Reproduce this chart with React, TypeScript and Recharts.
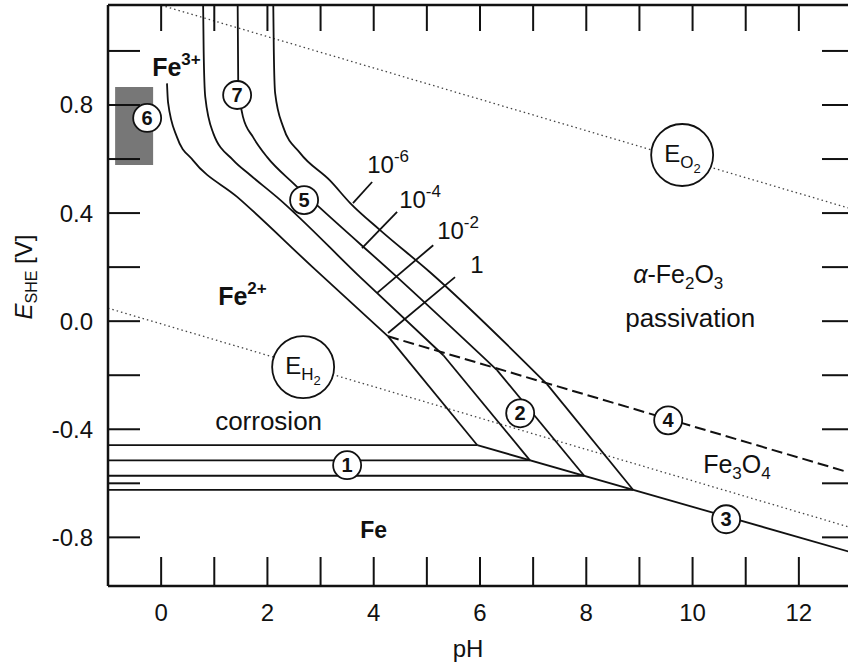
import React from 'react';
import { LineChart, Line, XAxis, YAxis, ReferenceDot, ReferenceArea } from 'recharts';

type Pt = { ph: number; e: number };
const pts = (rows: [number, number][]): Pt[] => rows.map(([ph, e]) => ({ ph, e }));

const PH_DOMAIN: [number, number] = [-1, 13];
const E_DOMAIN: [number, number] = [-0.98, 1.17];
const PH_TICKS = [0, 1, 2, 3, 4, 5, 6, 7, 8, 9, 10, 11, 12];
const E_TICKS = [1.0, 0.8, 0.6, 0.4, 0.2, 0, -0.2, -0.4, -0.6, -0.8];

// Fe3+/Fe2O3 (7) bending into Fe2+/Fe2O3 (5), for c(Fe2+) = 1, 1e-2, 1e-4, 1e-6
const UPPER_C0 = pts([[0.11, 0.88], [0.13, 0.81], [0.3, 0.68], [0.6, 0.595], [1.43, 0.46], [2.85, 0.2], [4.27, -0.056]]);
const UPPER_C2 = pts([[0.79, 1.17], [0.8, 1.0], [0.83, 0.83], [0.98, 0.696], [1.355, 0.596], [1.675, 0.541], [2.18, 0.459], [3.745, 0.163], [5.31, -0.126]]);
const UPPER_C4 = pts([[1.44, 1.17], [1.45, 0.89], [1.54, 0.756], [1.73, 0.681], [1.995, 0.607], [2.484, 0.511], [2.99, 0.419], [4.44, 0.163], [6.32, -0.181]]);
const UPPER_C6 = pts([[2.11, 1.17], [2.12, 1.0], [2.145, 0.844], [2.296, 0.719], [2.616, 0.622], [3.18, 0.52], [3.557, 0.437], [4.12, 0.337], [5.06, 0.181], [7.26, -0.233]]);

// Fe2+/Fe3O4 (2)
const LOWER_C0 = pts([[4.27, -0.056], [5.95, -0.459]]);
const LOWER_C2 = pts([[5.31, -0.126], [6.94, -0.515]]);
const LOWER_C4 = pts([[6.32, -0.181], [7.96, -0.572]]);
const LOWER_C6 = pts([[7.26, -0.233], [8.88, -0.624]]);

// Fe/Fe2+ (1)
const FE_FE2_C0 = pts([[-1, -0.459], [5.95, -0.459]]);
const FE_FE2_C2 = pts([[-1, -0.515], [6.94, -0.515]]);
const FE_FE2_C4 = pts([[-1, -0.572], [7.96, -0.572]]);
const FE_FE2_C6 = pts([[-1, -0.624], [8.88, -0.624]]);

// Fe/Fe3O4 (3) and Fe3O4/Fe2O3 (4)
const FE_FE3O4 = pts([[5.95, -0.459], [13, -0.856]]);
const FE3O4_FE2O3 = pts([[4.27, -0.056], [13, -0.563]]);

// water stability lines
const E_O2_LINE = pts([[0, 1.169], [13, 0.415]]);
const E_H2_LINE = pts([[-1, 0.048], [13, -0.765]]);

// concentration leaders
const LEADER_C6 = pts([[3.97, 0.515], [3.61, 0.437]]);
const LEADER_C4 = pts([[4.44, 0.404], [3.78, 0.27]]);
const LEADER_C2 = pts([[5.12, 0.281], [4.06, 0.104]]);
const LEADER_C0 = pts([[5.53, 0.163], [4.27, -0.044]]);

const SOLID = [UPPER_C0, UPPER_C2, UPPER_C4, UPPER_C6];
const STRAIGHT = [
  LOWER_C0, LOWER_C2, LOWER_C4, LOWER_C6,
  FE_FE2_C0, FE_FE2_C2, FE_FE2_C4, FE_FE2_C6,
  FE_FE3O4,
  LEADER_C6, LEADER_C4, LEADER_C2, LEADER_C0,
];

const FONT = '"Liberation Sans", Arial, Helvetica, sans-serif';
const INK = '#111';

function BottomTick(props: any) {
  const { x, y, payload } = props;
  const v = payload.value;
  return (
    <g>
      <line x1={x} y1={y} x2={x} y2={y - 29} stroke={INK} strokeWidth={2} />
      {v % 2 === 0 && (
        <text x={x} y={y + 35} textAnchor="middle" fontSize={24} fontFamily={FONT} fill={INK}>{v}</text>
      )}
    </g>
  );
}

function TopTick(props: any) {
  const { x, y } = props;
  return <line x1={x} y1={y} x2={x} y2={y + 26} stroke={INK} strokeWidth={2} />;
}

function LeftTick(props: any) {
  const { x, y, payload } = props;
  const v = payload.value;
  const labelled = Math.round(v * 10) % 4 === 0;
  return (
    <g>
      <line x1={x} y1={y} x2={x + 32} y2={y} stroke={INK} strokeWidth={2} />
      {labelled && (
        <text x={x - 15} y={y + 8.5} textAnchor="end" fontSize={24} fontFamily={FONT} fill={INK}>{v.toFixed(1)}</text>
      )}
    </g>
  );
}

function RightTick(props: any) {
  const { x, y } = props;
  return <line x1={x} y1={y} x2={x - 30} y2={y} stroke={INK} strokeWidth={2} />;
}

const circled = (n: string) => (p: any) => (
  <g>
    <circle cx={p.cx} cy={p.cy} r={14} fill="#fff" stroke={INK} strokeWidth={1.8} />
    <text x={p.cx} y={p.cy + 7} textAnchor="middle" fontSize={20} fontWeight="bold" fontFamily={FONT} fill={INK}>{n}</text>
  </g>
);

const potential = (sub: string) => (p: any) => (
  <g>
    <circle cx={p.cx} cy={p.cy} r={31} fill="#fff" stroke={INK} strokeWidth={1.8} />
    <text x={p.cx - 18} y={p.cy + 7} fontSize={24} fontFamily={FONT} fill={INK}>
      E<tspan fontSize={17} dy={6}>{sub}</tspan><tspan fontSize={13} dy={5}>2</tspan>
    </text>
  </g>
);

const note = (children: React.ReactNode, size = 25, weight: string = 'normal') => (p: any) => (
  <text x={p.cx} y={p.cy} fontSize={size} fontWeight={weight} fontFamily={FONT} fill={INK}>{children}</text>
);

const power = (exp: string) => note(<>10<tspan fontSize={17} dy={-11}>{exp}</tspan></>, 24);

export default function App() {
  return (
    <div style={{ position: 'absolute', left: 0, top: 0, width: 848, height: 665, overflow: 'hidden', background: '#fff' }}>
      <LineChart width={860} height={665} margin={{ top: 4, right: 7, bottom: 0, left: 0 }}>
        <XAxis
          dataKey="ph" type="number" domain={PH_DOMAIN} ticks={PH_TICKS} allowDataOverflow interval={0}
          height={79} tickSize={0} tickMargin={0} tickLine={false}
          axisLine={{ stroke: INK, strokeWidth: 2.5 }} tick={<BottomTick />}
        />
        <XAxis
          xAxisId="top" orientation="top" dataKey="ph" type="number" domain={PH_DOMAIN} ticks={PH_TICKS}
          allowDataOverflow interval={0} height={1} tickSize={0} tickMargin={0} tickLine={false}
          axisLine={{ stroke: INK, strokeWidth: 2.5 }} tick={<TopTick />}
        />
        <YAxis
          type="number" domain={E_DOMAIN} ticks={E_TICKS} allowDataOverflow interval={0}
          width={108} tickSize={0} tickMargin={0} tickLine={false}
          axisLine={{ stroke: INK, strokeWidth: 2.5 }} tick={<LeftTick />}
        />
        <YAxis
          yAxisId="right" orientation="right" type="number" domain={E_DOMAIN} ticks={E_TICKS}
          allowDataOverflow interval={0} width={1} tickSize={0} tickMargin={0} tickLine={false}
          axisLine={{ stroke: INK, strokeWidth: 2.5 }} tick={<RightTick />}
        />

        <ReferenceArea x1={-0.866} x2={-0.151} y1={0.578} y2={0.867} fill="#777" fillOpacity={1} stroke="none" ifOverflow="visible" />

        <Line data={E_O2_LINE} dataKey="e" type="linear" stroke="#444" strokeWidth={1.3} strokeDasharray="1.5 3" dot={false} activeDot={false} isAnimationActive={false} />
        <Line data={E_H2_LINE} dataKey="e" type="linear" stroke="#444" strokeWidth={1.3} strokeDasharray="1.5 3" dot={false} activeDot={false} isAnimationActive={false} />
        <Line data={FE3O4_FE2O3} dataKey="e" type="linear" stroke={INK} strokeWidth={2} strokeDasharray="11 5" dot={false} activeDot={false} isAnimationActive={false} />

        {SOLID.map((d, i) => (
          <Line key={`u${i}`} data={d} dataKey="e" type="monotoneX" stroke={INK} strokeWidth={1.8} dot={false} activeDot={false} isAnimationActive={false} />
        ))}
        {STRAIGHT.map((d, i) => (
          <Line key={`s${i}`} data={d} dataKey="e" type="linear" stroke={INK} strokeWidth={1.8} dot={false} activeDot={false} isAnimationActive={false} />
        ))}

        <ReferenceDot x={9.804} y={0.615} r={0} ifOverflow="visible" shape={potential('O')} zIndex={700} />
        <ReferenceDot x={2.672} y={-0.17} r={0} ifOverflow="visible" shape={potential('H')} zIndex={700} />

        <ReferenceDot x={-0.263} y={0.752} r={0} ifOverflow="visible" shape={circled('6')} zIndex={700} />
        <ReferenceDot x={1.43} y={0.837} r={0} ifOverflow="visible" shape={circled('7')} zIndex={700} />
        <ReferenceDot x={2.69} y={0.448} r={0} ifOverflow="visible" shape={circled('5')} zIndex={700} />
        <ReferenceDot x={6.756} y={-0.341} r={0} ifOverflow="visible" shape={circled('2')} zIndex={700} />
        <ReferenceDot x={9.541} y={-0.367} r={0} ifOverflow="visible" shape={circled('4')} zIndex={700} />
        <ReferenceDot x={3.5} y={-0.533} r={0} ifOverflow="visible" shape={circled('1')} zIndex={700} />
        <ReferenceDot x={10.632} y={-0.733} r={0} ifOverflow="visible" shape={circled('3')} zIndex={700} />

        <ReferenceDot x={3.877} y={0.548} r={0} ifOverflow="visible" shape={power('-6')} zIndex={700} />
        <ReferenceDot x={4.479} y={0.419} r={0} ifOverflow="visible" shape={power('-4')} zIndex={700} />
        <ReferenceDot x={5.194} y={0.304} r={0} ifOverflow="visible" shape={power('-2')} zIndex={700} />
        <ReferenceDot x={5.815} y={0.178} r={0} ifOverflow="visible" shape={note('1', 24)} zIndex={700} />

        <ReferenceDot x={-0.169} y={0.907} r={0} ifOverflow="visible" zIndex={700}
          shape={note(<>Fe<tspan fontSize={17} dy={-11}>3+</tspan></>, 25, 'bold')} />
        <ReferenceDot x={1.073} y={0.059} r={0} ifOverflow="visible" zIndex={700}
          shape={note(<>Fe<tspan fontSize={17} dy={-11}>2+</tspan></>, 25, 'bold')} />
        <ReferenceDot x={1.016} y={-0.404} r={0} ifOverflow="visible" zIndex={700} shape={note('corrosion', 26)} />
        <ReferenceDot x={8.882} y={0.141} r={0} ifOverflow="visible" zIndex={700}
          shape={note(<><tspan fontStyle="italic">α</tspan>-Fe<tspan fontSize={17} dy={6}>2</tspan><tspan dy={-6}>O</tspan><tspan fontSize={17} dy={6}>3</tspan></>, 25)} />
        <ReferenceDot x={8.732} y={-0.022} r={0} ifOverflow="visible" zIndex={700} shape={note('passivation', 26)} />
        <ReferenceDot x={10.199} y={-0.563} r={0} ifOverflow="visible" zIndex={700}
          shape={note(<>Fe<tspan fontSize={17} dy={6}>3</tspan><tspan dy={-6}>O</tspan><tspan fontSize={17} dy={6}>4</tspan></>, 25)} />
        <ReferenceDot x={3.745} y={-0.804} r={0} ifOverflow="visible" zIndex={700} shape={note('Fe', 23, 'bold')} />

        <text x={468} y={657} textAnchor="middle" fontSize={24} fontFamily={FONT} fill={INK}>pH</text>
        <text x={32} y={277} transform="rotate(-90 32 277)" textAnchor="middle" fontSize={24} fontFamily={FONT} fill={INK}>
          <tspan fontStyle="italic">E</tspan><tspan fontSize={16} dy={5}>SHE</tspan><tspan dy={-5}> [V]</tspan>
        </text>
      </LineChart>
    </div>
  );
}
